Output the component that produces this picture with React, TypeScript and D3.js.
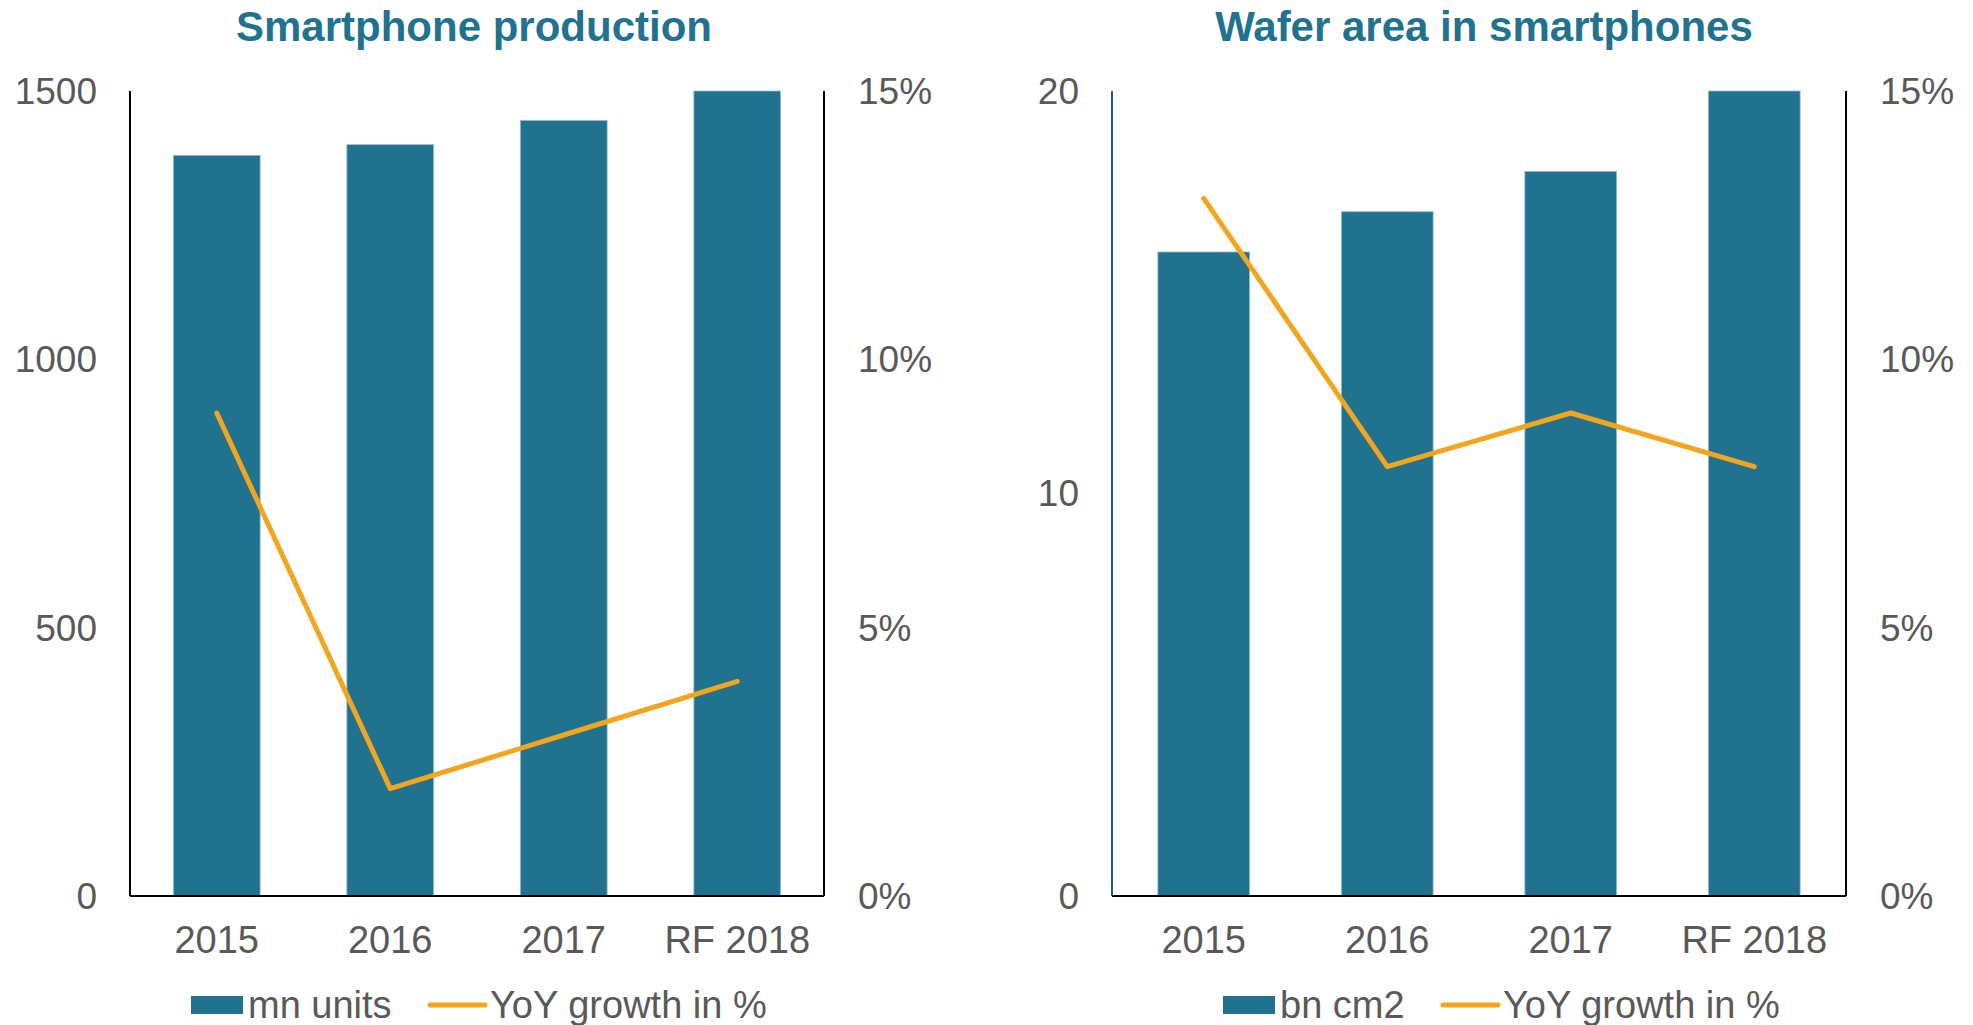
import React from "react";
import * as d3 from "d3";

const categories = ["2015", "2016", "2017", "RF 2018"];
const smartphoneUnits = [1380, 1400, 1445, 1500];
const smartphoneGrowth = [9, 2, 3, 4];
const waferArea = [16, 17, 18, 20];
const waferGrowth = [13, 8, 9, 8];
const unitTicks = [0, 500, 1000, 1500];
const waferTicks = [0, 10, 20];
const growthTicks = [0, 5, 10, 15];

const BAR = "#21728f";
const LINE = "#f2a51f";
const TXT = "#595959";
const FONT = "'Liberation Sans', Arial, sans-serif";

type PanelProps = {
  x0: number;
  x1: number;
  title: string;
  titleX: number;
  bars: number[];
  growth: number[];
  yMax: number;
  yTicks: number[];
  barLabel: string;
  legendX: number;
  legendLineX: number;
  leftAxisColor: string;
};

const Y0 = 896;
const Y1 = 91;

function Panel(p: PanelProps) {
  const x = d3.scaleBand<string>().domain(categories).range([p.x0, p.x1]).paddingInner(0.5).paddingOuter(0.25);
  const y = d3.scaleLinear().domain([0, p.yMax]).range([Y0, Y1]);
  const y2 = d3.scaleLinear().domain([0, 15]).range([Y0, Y1]);
  const line = d3
    .line<number>()
    .x((_, i) => (x(categories[i]) as number) + x.bandwidth() / 2)
    .y((d) => y2(d));
  return (
    <g fontFamily={FONT}>
      <text x={p.titleX} y={41} textAnchor="middle" fontSize={42} fontWeight="bold" fill={BAR}>
        {p.title}
      </text>
      {p.bars.map((v, i) => (
        <rect
          key={i}
          x={x(categories[i])}
          y={y(v)}
          width={x.bandwidth()}
          height={Y0 - y(v)}
          fill={BAR}
          stroke="#8fbccc"
          strokeWidth={0.8}
        />
      ))}
      <path d={line(p.growth) || ""} fill="none" stroke={LINE} strokeWidth={5} strokeLinejoin="round" strokeLinecap="round" />
      <line x1={p.x0} x2={p.x0} y1={Y1} y2={Y0} stroke={p.leftAxisColor} strokeWidth={2} />
      <line x1={p.x1} x2={p.x1} y1={Y1} y2={Y0} stroke="#000" strokeWidth={2} />
      <line x1={p.x0} x2={p.x1} y1={Y0} y2={Y0} stroke="#000" strokeWidth={2} />
      {p.yTicks.map((t) => (
        <text key={"l" + t} x={p.x0 - 33} y={y(t)} dy="0.35em" textAnchor="end" fontSize={37} fill={TXT}>
          {t}
        </text>
      ))}
      {growthTicks.map((t) => (
        <text key={"r" + t} x={p.x1 + 34} y={y2(t)} dy="0.35em" textAnchor="start" fontSize={37} fill={TXT}>
          {t + "%"}
        </text>
      ))}
      {categories.map((c) => (
        <text key={c} x={(x(c) as number) + x.bandwidth() / 2} y={953} textAnchor="middle" fontSize={38} fill={TXT}>
          {c}
        </text>
      ))}
      <rect x={p.legendX} y={996} width={52} height={18} fill={BAR} />
      <text x={p.legendX + 57} y={1018} fontSize={38} fill={TXT}>
        {p.barLabel}
      </text>
      <line x1={p.legendLineX} x2={p.legendLineX + 55} y1={1005} y2={1005} stroke={LINE} strokeWidth={5} strokeLinecap="round" />
      <text x={p.legendLineX + 60} y={1018} fontSize={38} fill={TXT}>
        YoY growth in %
      </text>
    </g>
  );
}

export default function App() {
  return (
    <svg width={1973} height={1025} style={{ position: "absolute", left: 0, top: 0, background: "#fff" }}>
      <rect width={1973} height={1025} fill="#fff" />
      <Panel
        x0={130}
        x1={824}
        title="Smartphone production"
        titleX={474}
        bars={smartphoneUnits}
        growth={smartphoneGrowth}
        yMax={1500}
        yTicks={unitTicks}
        barLabel="mn units"
        legendX={191}
        legendLineX={430}
        leftAxisColor="#000"
      />
      <Panel
        x0={1112}
        x1={1846}
        title="Wafer area in smartphones"
        titleX={1484}
        bars={waferArea}
        growth={waferGrowth}
        yMax={20}
        yTicks={waferTicks}
        barLabel="bn cm2"
        legendX={1223}
        legendLineX={1443}
        leftAxisColor="#2a5f72"
      />
    </svg>
  );
}
